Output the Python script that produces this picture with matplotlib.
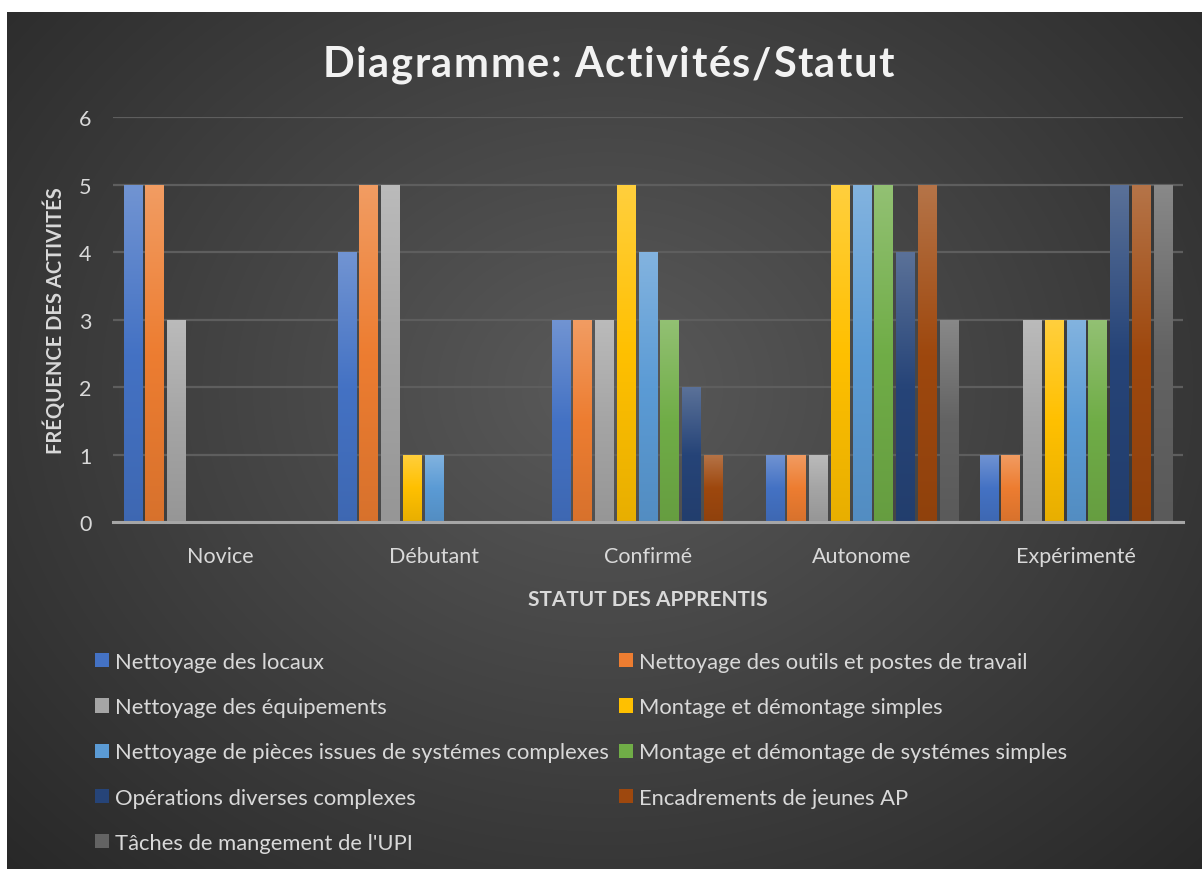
import numpy as np
import matplotlib
matplotlib.use("Agg")
import matplotlib.pyplot as plt
from matplotlib.patches import Patch
import matplotlib.colors as mcolors

plt.rcParams['font.family'] = ['Lato', 'DejaVu Sans']

categories = ["Novice", "Débutant", "Confirmé", "Autonome", "Expérimenté"]
series_names = [
    "Nettoyage des locaux",
    "Nettoyage des outils et postes de travail",
    "Nettoyage des équipements",
    "Montage et démontage simples",
    "Nettoyage de pièces issues de systémes complexes",
    "Montage et démontage de systémes simples",
    "Opérations diverses complexes",
    "Encadrements de jeunes AP",
    "Tâches de mangement de l'UPI",
]
nettoyage_locaux = [5, 4, 3, 1, 1]
nettoyage_outils = [5, 5, 3, 1, 1]
nettoyage_equipements = [3, 5, 3, 1, 3]
montage_simples = [0, 1, 5, 5, 3]
nettoyage_pieces = [0, 1, 4, 5, 3]
montage_systemes = [0, 0, 3, 5, 3]
operations = [0, 0, 2, 4, 5]
encadrements = [0, 0, 1, 5, 5]
taches_upi = [0, 0, 0, 3, 5]
series_values = [nettoyage_locaux, nettoyage_outils, nettoyage_equipements,
                 montage_simples, nettoyage_pieces, montage_systemes,
                 operations, encadrements, taches_upi]
colors = ["#4472C4", "#ED7D31", "#A5A5A5", "#FFC000", "#5B9BD5",
          "#70AD47", "#264478", "#9E480E", "#636363"]
yticks = [0, 1, 2, 3, 4, 5, 6]
title = "Diagramme: Activités/Statut"

W, H = 1202, 870
fig = plt.figure(figsize=(W / 100, H / 100), dpi=100, facecolor="white")

# background with radial gradient
bg = fig.add_axes([7 / W, 0, 1 - 7 / W, 1 - 13 / H])
bg.set_axis_off()
yy, xx = np.mgrid[0:400, 0:600]
cx, cy = 300, 175
d = np.sqrt(((xx - cx) / 430.0) ** 2 + ((yy - cy) / 330.0) ** 2)
d = np.clip(d, 0, 1)
c_in = np.array(mcolors.to_rgb("#5a5a5a"))
c_out = np.array(mcolors.to_rgb("#272727"))
img = c_in[None, None, :] * (1 - d[..., None]) + c_out[None, None, :] * d[..., None]
bg.imshow(img, extent=[0, 1, 0, 1], aspect="auto", origin="upper", interpolation="bilinear")
bg.set_xlim(0, 1)
bg.set_ylim(0, 1)

ax = fig.add_axes([113 / W, 1 - 523 / H, (1183 - 113) / W, (523 - 118) / H])
ax.patch.set_alpha(0)

n = len(series_names)
x = np.arange(len(categories))
group_w = 0.915
step = group_w / n
bar_w = step * 0.87


def blend(c, other, t):
    c = np.array(mcolors.to_rgb(c))
    o = np.array(mcolors.to_rgb(other))
    return c * (1 - t) + o * t


for i, (name, vals, col) in enumerate(zip(series_names, series_values, colors)):
    offs = -group_w / 2 + step * (i + 0.5)
    bars = ax.bar(x + offs, vals, width=bar_w, color=col, zorder=3, linewidth=0)
    top = blend(col, "white", 0.24)
    mid = np.array(mcolors.to_rgb(col))
    bot = blend(col, "black", 0.09)
    t = np.linspace(0, 1, 64)[:, None]
    grad = np.where(t < 0.5, bot * (1 - t * 2) + mid * (t * 2), mid * (2 - t * 2) + top * (t * 2 - 1))
    grad = grad[:, None, :]
    for b in bars:
        h = b.get_height()
        if h <= 0:
            continue
        x0 = b.get_x()
        im = ax.imshow(grad, extent=[x0, x0 + b.get_width(), 0, h], origin="lower",
                       aspect="auto", zorder=4, interpolation="bilinear")
        im.set_clip_path(b)

ax.set_xlim(-0.5, len(categories) - 0.5)
ax.set_ylim(0, 6)
ax.set_yticks(yticks)
ax.set_yticklabels([str(v) for v in yticks])
ax.set_xticks(x)
ax.set_xticklabels(categories)
ax.yaxis.grid(True, color="#5e5e5e", linewidth=1.6, zorder=1)
ax.set_axisbelow(True)
for s in ["top", "right", "left"]:
    ax.spines[s].set_visible(False)
ax.spines["bottom"].set_color("#a6a6a6")
ax.spines["bottom"].set_linewidth(2.2)
ax.spines["bottom"].set_zorder(6)
ax.tick_params(axis="both", length=0, colors="#d9d9d9", labelsize=15.5)
ax.tick_params(axis="y", pad=15.5)
ax.tick_params(axis="x", pad=17)

ax.set_xlabel("STATUT DES APPRENTIS", color="#d9d9d9", fontsize=15, fontweight="bold", labelpad=17)
ax.set_ylabel("FRÉQUENCE DES ACTIVITÉS", color="#d9d9d9", fontsize=14.5, fontweight="bold", labelpad=9.5)

# letter-spaced title
renderer = fig.canvas.get_renderer()
tprops = dict(color="#f2f2f2", fontsize=30, fontweight="bold", va="baseline", ha="left")


def text_w(s):
    tt = fig.text(0, 0, s, **tprops)
    w = tt.get_window_extent(renderer).width
    tt.remove()
    return w


t_left, t_right, t_base = 323, 894, 77
natural = text_w(title)
sp = (t_right - t_left - natural) / (len(title) - 1)
for i, ch in enumerate(title):
    if ch == " ":
        continue
    xpos = t_left + text_w(title[:i + 1]) - text_w(ch) + i * sp
    fig.text(xpos / W, 1 - t_base / H, ch, **tprops)

handles = [Patch(facecolor=c, edgecolor="none") for c in colors]
left_idx = [0, 2, 4, 6, 8]
right_idx = [1, 3, 5, 7]
common = dict(frameon=False, fontsize=15.8, labelcolor="#d9d9d9", handlelength=0.62,
              handleheight=0.62, handletextpad=0.3, labelspacing=1.15, borderaxespad=0,
              borderpad=0)
leg1 = fig.legend([handles[i] for i in left_idx], [series_names[i] for i in left_idx],
                  loc="upper left", bbox_to_anchor=(95 / W, 1 - 653 / H), **common)
leg2 = fig.legend([handles[i] for i in right_idx], [series_names[i] for i in right_idx],
                  loc="upper left", bbox_to_anchor=(619 / W, 1 - 653 / H), **common)

fig.savefig("out.png", dpi=100, facecolor="white")
